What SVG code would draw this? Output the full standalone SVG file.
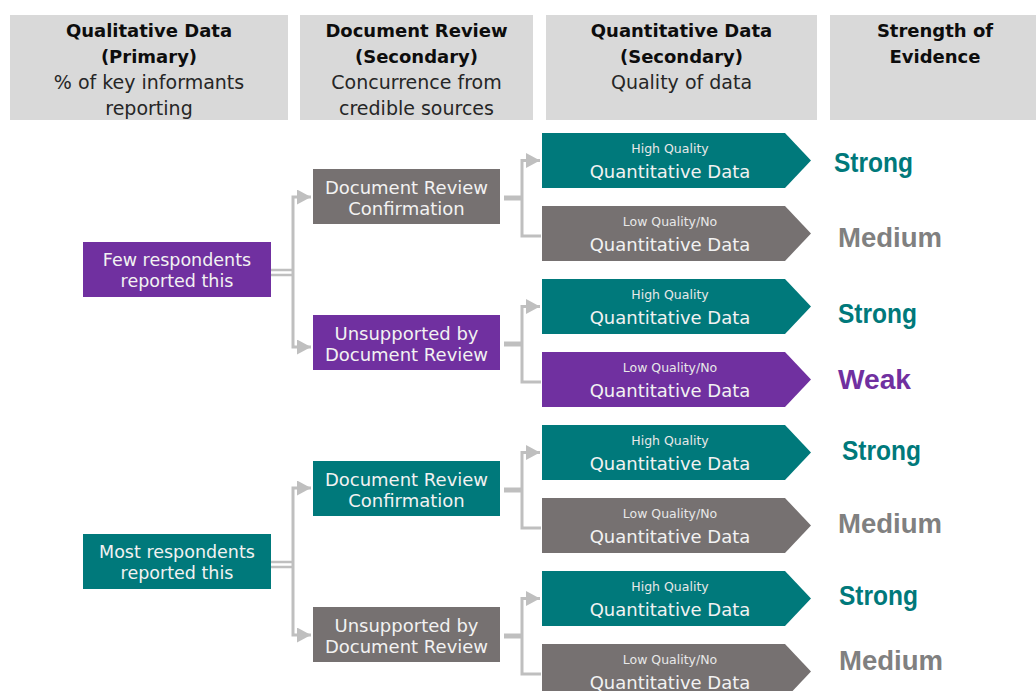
<svg xmlns="http://www.w3.org/2000/svg" width="1036" height="691" viewBox="0 0 1036 691">
<defs>
<style>
.hdr{fill:#d9d9d9}
.hb{font-family:"DejaVu Sans",sans-serif;font-weight:bold;font-size:18px;fill:#0d0d0d;text-anchor:middle}
.hr{font-family:"DejaVu Sans",sans-serif;font-size:19px;fill:#262626;text-anchor:middle}
.teal{fill:#00797b}
.purple{fill:#7030a0}
.gray{fill:#767171}
.nt{font-family:"DejaVu Sans",sans-serif;font-size:18px;fill:#f2f2f2;text-anchor:middle}
.ns{font-family:"DejaVu Sans",sans-serif;font-size:12.5px;fill:#e8e8e8;text-anchor:middle}
.st{font-family:"Liberation Sans",Arial,sans-serif;font-weight:bold;font-size:27px}
.c{fill:none;stroke:#bfbfbf;stroke-width:3}
.stub{fill:none;stroke:#bfbfbf;stroke-width:5}
.dbl{fill:none;stroke:#bfbfbf;stroke-width:2.5}
</style>
<marker id="ah" markerUnits="userSpaceOnUse" markerWidth="14" markerHeight="15" refX="14" refY="7.5" orient="auto">
<path d="M0,0 L14,7.5 L0,15 z" fill="#bfbfbf"/>
</marker>
</defs>
<rect width="1036" height="691" fill="#ffffff"/>

<g id="header-qualitative">
<rect class="hdr" x="10" y="15" width="278" height="105"/>
<text class="hb" x="149" y="37">Qualitative Data</text>
<text class="hb" x="149" y="63">(Primary)</text>
<text class="hr" x="149" y="89">% of key informants</text>
<text class="hr" x="149" y="115">reporting</text>
</g>
<g id="header-document">
<rect class="hdr" x="300" y="15" width="233" height="105"/>
<text class="hb" x="416.5" y="37">Document Review</text>
<text class="hb" x="416.5" y="63">(Secondary)</text>
<text class="hr" x="416.5" y="89">Concurrence from</text>
<text class="hr" x="416.5" y="115">credible sources</text>
</g>
<g id="header-quantitative">
<rect class="hdr" x="546" y="15" width="271" height="105"/>
<text class="hb" x="681.5" y="37">Quantitative Data</text>
<text class="hb" x="681.5" y="63">(Secondary)</text>
<text class="hr" x="681.5" y="89">Quality of data</text>
</g>
<g id="header-strength">
<rect class="hdr" x="830" y="15" width="206" height="105"/>
<text class="hb" x="935" y="37">Strength of</text>
<text class="hb" x="935" y="63">Evidence</text>
</g>

<g id="connectors">
<path class="dbl" d="M271,270 H293 M271,275 H293"/>
<path class="c" d="M293,272 V197 H311" marker-end="url(#ah)"/>
<path class="c" d="M293,272 V347 H311" marker-end="url(#ah)"/>
<path class="dbl" d="M271,562 H293 M271,567 H293"/>
<path class="c" d="M293,564 V488 H311" marker-end="url(#ah)"/>
<path class="c" d="M293,564 V635 H311" marker-end="url(#ah)"/>

<path class="stub" d="M504,198 H522"/>
<path class="c" d="M522,198 V160.5 H540" marker-end="url(#ah)"/>
<path class="c" d="M522,198 V236 H541"/>
<path class="stub" d="M504,344 H522"/>
<path class="c" d="M522,344 V306.5 H540" marker-end="url(#ah)"/>
<path class="c" d="M522,344 V382 H541"/>
<path class="stub" d="M504,490 H522"/>
<path class="c" d="M522,490 V452.5 H540" marker-end="url(#ah)"/>
<path class="c" d="M522,490 V528 H541"/>
<path class="stub" d="M504,636 H522"/>
<path class="c" d="M522,636 V598.5 H540" marker-end="url(#ah)"/>
<path class="c" d="M522,636 V674 H541"/>
</g>

<g id="few-respondents">
<rect class="purple" x="83" y="242" width="188" height="55"/>
<text class="nt" x="177" y="266" style="font-size:17.5px">Few respondents</text>
<text class="nt" x="177" y="287" style="font-size:17.5px">reported this</text>
</g>
<g id="most-respondents">
<rect class="teal" x="83" y="534" width="188" height="55"/>
<text class="nt" x="177" y="558" style="font-size:17.5px">Most respondents</text>
<text class="nt" x="177" y="579" style="font-size:17.5px">reported this</text>
</g>

<g id="doc-confirm-1">
<rect class="gray" x="313" y="169" width="187" height="55"/>
<text class="nt" x="406.5" y="194">Document Review</text>
<text class="nt" x="406.5" y="215">Confirmation</text>
</g>
<g id="doc-unsupported-1">
<rect class="purple" x="313" y="315" width="187" height="55"/>
<text class="nt" x="406.5" y="340">Unsupported by</text>
<text class="nt" x="406.5" y="361">Document Review</text>
</g>
<g id="doc-confirm-2">
<rect class="teal" x="313" y="461" width="187" height="55"/>
<text class="nt" x="406.5" y="486">Document Review</text>
<text class="nt" x="406.5" y="507">Confirmation</text>
</g>
<g id="doc-unsupported-2">
<rect class="gray" x="313" y="607" width="187" height="55"/>
<text class="nt" x="406.5" y="632">Unsupported by</text>
<text class="nt" x="406.5" y="653">Document Review</text>
</g>

<g id="quant-1">
<polygon class="teal" points="542,133 785,133 811,160.5 785,188 542,188"/>
<text class="ns" x="670" y="153">High Quality</text>
<text class="nt" x="670" y="178">Quantitative Data</text>
</g>
<g id="quant-2">
<polygon class="gray" points="542,206 785,206 811,233.5 785,261 542,261"/>
<text class="ns" x="670" y="226">Low Quality/No</text>
<text class="nt" x="670" y="251">Quantitative Data</text>
</g>
<g id="quant-3">
<polygon class="teal" points="542,279 785,279 811,306.5 785,334 542,334"/>
<text class="ns" x="670" y="299">High Quality</text>
<text class="nt" x="670" y="324">Quantitative Data</text>
</g>
<g id="quant-4">
<polygon class="purple" points="542,352 785,352 811,379.5 785,407 542,407"/>
<text class="ns" x="670" y="372">Low Quality/No</text>
<text class="nt" x="670" y="397">Quantitative Data</text>
</g>
<g id="quant-5">
<polygon class="teal" points="542,425 785,425 811,452.5 785,480 542,480"/>
<text class="ns" x="670" y="445">High Quality</text>
<text class="nt" x="670" y="470">Quantitative Data</text>
</g>
<g id="quant-6">
<polygon class="gray" points="542,498 785,498 811,525.5 785,553 542,553"/>
<text class="ns" x="670" y="518">Low Quality/No</text>
<text class="nt" x="670" y="543">Quantitative Data</text>
</g>
<g id="quant-7">
<polygon class="teal" points="542,571 785,571 811,598.5 785,626 542,626"/>
<text class="ns" x="670" y="591">High Quality</text>
<text class="nt" x="670" y="616">Quantitative Data</text>
</g>
<g id="quant-8">
<polygon class="gray" points="542,644 785,644 811,671.5 785,699 542,699"/>
<text class="ns" x="670" y="664">Low Quality/No</text>
<text class="nt" x="670" y="689">Quantitative Data</text>
</g>

<g id="strength-labels">
<text class="st" x="834" y="172" fill="#00797b" textLength="79" lengthAdjust="spacingAndGlyphs">Strong</text>
<text class="st" x="838" y="247" fill="#808080" textLength="104" lengthAdjust="spacingAndGlyphs">Medium</text>
<text class="st" x="838" y="323" fill="#00797b" textLength="79" lengthAdjust="spacingAndGlyphs">Strong</text>
<text class="st" x="838" y="389" fill="#7030a0" textLength="73" lengthAdjust="spacingAndGlyphs">Weak</text>
<text class="st" x="842" y="460" fill="#00797b" textLength="79" lengthAdjust="spacingAndGlyphs">Strong</text>
<text class="st" x="838" y="533" fill="#808080" textLength="104" lengthAdjust="spacingAndGlyphs">Medium</text>
<text class="st" x="839" y="605" fill="#00797b" textLength="79" lengthAdjust="spacingAndGlyphs">Strong</text>
<text class="st" x="839" y="670" fill="#808080" textLength="104" lengthAdjust="spacingAndGlyphs">Medium</text>
</g>
</svg>
